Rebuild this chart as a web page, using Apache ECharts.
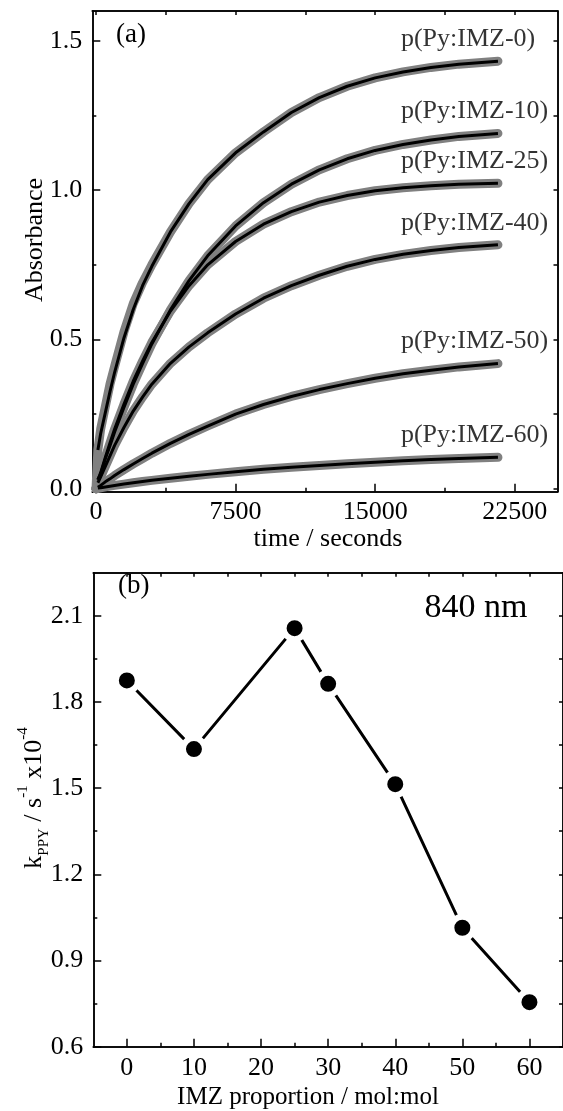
<!DOCTYPE html>
<html><head><meta charset="utf-8">
<script src="https://cdn.jsdelivr.net/npm/echarts@6/dist/echarts.min.js"></script>
<style>html,body{margin:0;padding:0;background:#fff}#c{width:563px;height:1111px}</style>
</head><body><div id="c"></div>
<script>
// ---------- panel (a) data ----------
const seriesNames = ['p(Py:IMZ-0)','p(Py:IMZ-10)','p(Py:IMZ-25)','p(Py:IMZ-40)','p(Py:IMZ-50)','p(Py:IMZ-60)'];
// measured absorbance (grey circles)
const timeS  = [0,100,250,500,750,1000,1500,2000,2500,3000,4000,5000,6000,7500,9000,10500,12000,13500,15000,16500,18000,19500,21600];
const data0  = [0,0.13,0.20,0.275,0.35,0.41,0.525,0.62,0.69,0.75,0.86,0.955,1.035,1.125,1.195,1.26,1.31,1.348,1.376,1.396,1.411,1.422,1.432];
const data10 = [0,0.03,0.05,0.10,0.144,0.19,0.272,0.35,0.419,0.485,0.599,0.697,0.78,0.88,0.958,1.02,1.068,1.105,1.133,1.153,1.168,1.18,1.19];
const data25 = [0,0.03,0.054,0.105,0.153,0.20,0.283,0.36,0.427,0.49,0.595,0.68,0.75,0.828,0.886,0.928,0.96,0.982,0.998,1.008,1.015,1.02,1.023];
const data40 = [0,0.02,0.04,0.075,0.11,0.145,0.205,0.26,0.307,0.35,0.42,0.475,0.522,0.585,0.638,0.68,0.715,0.745,0.768,0.785,0.798,0.808,0.817];
const data50 = [0,0.005,0.011,0.023,0.033,0.044,0.064,0.083,0.101,0.119,0.152,0.182,0.21,0.25,0.282,0.309,0.332,0.352,0.37,0.385,0.397,0.408,0.419];
const data60 = [0,0.002,0.003,0.006,0.0085,0.011,0.0155,0.02,0.024,0.028,0.035,0.0415,0.048,0.057,0.065,0.072,0.078,0.084,0.089,0.094,0.098,0.101,0.105];
// fitted curves (black lines)
const fitTimeS = [100,250,500,750,1000,1500,2000,2500,3000,4000,5000,6000,7500,9000,10500,12000,13500,15000,16500,18000,19500,21600];
const fit0  = [0.13,0.185,0.255,0.325,0.39,0.505,0.60,0.68,0.745,0.86,0.955,1.035,1.125,1.195,1.26,1.31,1.348,1.376,1.396,1.411,1.422,1.432];
const fit10 = [0.03,0.05,0.10,0.144,0.19,0.272,0.35,0.419,0.485,0.599,0.697,0.78,0.88,0.958,1.02,1.068,1.105,1.133,1.153,1.168,1.18,1.19];
const fit25 = [0.03,0.054,0.105,0.153,0.20,0.283,0.36,0.427,0.49,0.595,0.68,0.75,0.828,0.886,0.928,0.96,0.982,0.998,1.008,1.015,1.02,1.023];
const fit40 = [0.02,0.04,0.075,0.11,0.145,0.205,0.26,0.307,0.35,0.42,0.475,0.522,0.585,0.638,0.68,0.715,0.745,0.768,0.785,0.798,0.808,0.817];
const fit50 = [0.005,0.011,0.023,0.033,0.044,0.064,0.083,0.101,0.119,0.152,0.182,0.21,0.25,0.282,0.309,0.332,0.352,0.37,0.385,0.397,0.408,0.419];
const fit60 = [0.002,0.003,0.006,0.0085,0.011,0.0155,0.02,0.024,0.028,0.035,0.0415,0.048,0.057,0.065,0.072,0.078,0.084,0.089,0.094,0.098,0.101,0.105];

const timeTicks  = [0,7500,15000,22500];
const timeMinor  = [3750,11250,18750];
const absTicks   = [0,0.5,1.0,1.5];
const absMinor   = [0.25,0.75,1.25];

// ---------- panel (b) data ----------
const imzProp = [0,10,25,30,40,50,60];
const kPPY    = [1.875,1.636,2.057,1.863,1.514,1.014,0.755];
const imzTicks = [0,10,20,30,40,50,60];
const imzMinor = [5,15,25,35,45,55];
const kTicks   = [0.6,0.9,1.2,1.5,1.8,2.1];
const kMinor   = [0.75,1.05,1.35,1.65,1.95];

const FONT = "'Liberation Serif','Times New Roman',serif";
const dataSets = [data0,data10,data25,data40,data50,data60];
const fitSets  = [fit0,fit10,fit25,fit40,fit50,fit60];

function ax(grid, min, max, pos, vals, len, label) {
  return {
    type:'value', gridIndex:grid, min:min, max:max, position:pos,
    axisLine:{show:true, onZero:false, lineStyle:{color:'#000', width:1.5}},
    splitLine:{show:false},
    axisTick:{show:true, inside:true, length:len, customValues:vals, lineStyle:{color:'#000', width:1.5}},
    axisLabel: label ? {show:true, customValues:vals, margin:label.margin, fontSize:label.size || 26,
      fontFamily:FONT, color:'#000', formatter:label.fmt} : {show:false}
  };
}
const fmt1 = v => Number(v).toFixed(1);
const fmt0 = v => String(Math.round(v));

const xA = [-200, 24800], yA = [-0.01, 1.6];
const xB = [-5, 65], yB = [0.6, 2.25];

const xAxis = [
  ax(0, xA[0], xA[1], 'bottom', timeTicks, 8, {margin:7, fmt:fmt0}),
  ax(0, xA[0], xA[1], 'bottom', timeMinor, 4),
  ax(0, xA[0], xA[1], 'top', timeTicks, 4),
  ax(0, xA[0], xA[1], 'top', timeMinor, 4),
  ax(1, xB[0], xB[1], 'bottom', imzTicks, 8, {margin:8, fmt:fmt0}),
  ax(1, xB[0], xB[1], 'bottom', imzMinor, 4),
  ax(1, xB[0], xB[1], 'top', imzTicks, 4),
  ax(1, xB[0], xB[1], 'top', imzMinor, 4)
];
const yAxis = [
  ax(0, yA[0], yA[1], 'left', absTicks, 8, {margin:10, fmt:fmt1}),
  ax(0, yA[0], yA[1], 'left', absMinor, 4),
  ax(0, yA[0], yA[1], 'right', absTicks, 4),
  ax(0, yA[0], yA[1], 'right', absMinor, 4),
  ax(1, yB[0], yB[1], 'left', kTicks, 8, {margin:10, fmt:fmt1}),
  ax(1, yB[0], yB[1], 'left', kMinor, 4),
  ax(1, yB[0], yB[1], 'right', kTicks, 4),
  ax(1, yB[0], yB[1], 'right', kMinor, 4)
];

const series = [];
dataSets.forEach((d, i) => {
  series.push({
    type:'line', name:seriesNames[i]+' data', xAxisIndex:0, yAxisIndex:0,
    data: timeS.map((t, j) => [t, d[j]]), showSymbol:false, smooth:false,
    lineStyle:{color:'#808080', width:9, cap:'round', join:'round'}, z:2
  });
});
fitSets.forEach((d, i) => {
  series.push({
    type:'line', name:seriesNames[i], xAxisIndex:0, yAxisIndex:0,
    data: fitTimeS.map((t, j) => [t, d[j]]), showSymbol:false, smooth:false,
    lineStyle:{color:'#000', width:3, join:'round'}, z:3
  });
});
series.push({
  type:'scatter', name:'labels', xAxisIndex:0, yAxisIndex:0, symbolSize:0, z:4,
  data: fitSets.map((d, i) => ({name:seriesNames[i], value:[fitTimeS[fitTimeS.length-1], d[d.length-1]]})),
  label:{show:true, position:'top', distance:9, align:'left', offset:[-97,0], formatter:'{b}',
    fontSize:26, fontFamily:FONT, color:'#000'}
});
series.push({
  type:'line', name:'kPPY', xAxisIndex:4, yAxisIndex:4,
  data: imzProp.map((x, j) => [x, kPPY[j]]),
  symbol:'circle', symbolSize:22, showSymbol:true,
  lineStyle:{color:'#000', width:3},
  itemStyle:{color:'#000', borderColor:'#fff', borderWidth:6}, z:3
});

const chart = echarts.init(document.getElementById('c'), null, {renderer:'canvas'});
chart.setOption({
  animation:false,
  backgroundColor:'#fff',
  grid:[
    {left:92.3, top:11, width:465.2, height:480.7},
    {left:93.3, top:572.7, width:475.2, height:474}
  ],
  xAxis: xAxis, yAxis: yAxis, series: series,
  graphic:[
    {type:'text', x:116, y:35, style:{text:'(a)', fontSize:27, fontFamily:FONT, fill:'#000', align:'left', verticalAlign:'middle'}},
    {type:'text', x:118, y:586, style:{text:'(b)', fontSize:27, fontFamily:FONT, fill:'#000', align:'left', verticalAlign:'middle'}},
    {type:'text', x:476, y:608, style:{text:'840 nm', fontSize:34, fontFamily:FONT, fill:'#000', align:'center', verticalAlign:'middle'}},
    {type:'text', x:328, y:539, style:{text:'time / seconds', fontSize:26, fontFamily:FONT, fill:'#000', align:'center', verticalAlign:'middle'}},
    {type:'text', x:308, y:1097, style:{text:'IMZ proportion / mol:mol', fontSize:25, fontFamily:FONT, fill:'#000', align:'center', verticalAlign:'middle'}},
    {type:'text', x:35, y:240, rotation:Math.PI/2, style:{text:'Absorbance', fontSize:26, fontFamily:FONT, fill:'#000', align:'center', verticalAlign:'middle'}},
    {type:'text', x:34, y:798, rotation:Math.PI/2, style:{
      text:'{m|k}{sub|PPY}{m| / s}{sup|-1}{m| x10}{sup|-4}',
      align:'center', verticalAlign:'middle', fill:'#000', fontFamily:FONT,
      rich:{
        m:{fontSize:26, fontFamily:FONT, fill:'#000', lineHeight:36, verticalAlign:'middle'},
        sub:{fontSize:15, fontFamily:FONT, fill:'#000', verticalAlign:'bottom', lineHeight:17},
        sup:{fontSize:15, fontFamily:FONT, fill:'#000', verticalAlign:'top', lineHeight:17}
      }
    }}
  ]
});
</script>
</body></html>
